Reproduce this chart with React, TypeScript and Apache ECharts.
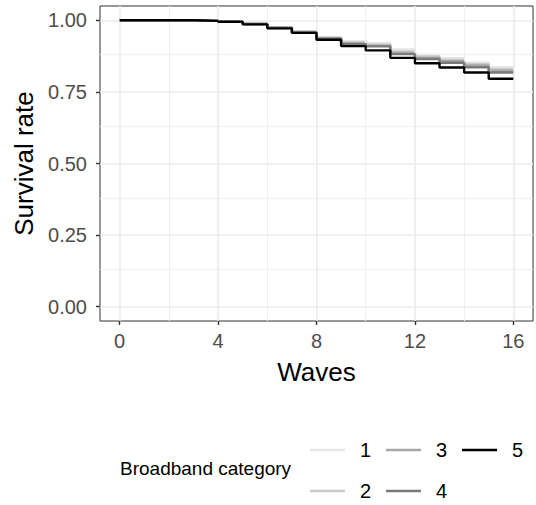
import React, { useEffect, useRef } from "react";
import * as echarts from "echarts";

const waves = [0, 1, 2, 3, 4, 5, 6, 7, 8, 9, 10, 11, 12, 13, 14, 15, 16];
const categories = ["1", "2", "3", "4", "5"];
const cat1 = [1, 1, 1, 0.999, 0.996, 0.988, 0.976, 0.962, 0.941, 0.927, 0.92, 0.898, 0.88, 0.868, 0.853, 0.836, 0.836];
const cat2 = [1, 1, 1, 0.999, 0.996, 0.988, 0.975, 0.96, 0.939, 0.923, 0.915, 0.891, 0.874, 0.862, 0.847, 0.829, 0.829];
const cat3 = [1, 1, 1, 0.998, 0.995, 0.987, 0.974, 0.959, 0.937, 0.92, 0.911, 0.886, 0.869, 0.857, 0.842, 0.824, 0.824];
const cat4 = [1, 1, 1, 0.998, 0.995, 0.987, 0.973, 0.958, 0.936, 0.917, 0.909, 0.882, 0.865, 0.852, 0.836, 0.818, 0.818];
const cat5 = [1, 1, 1, 0.998, 0.995, 0.986, 0.972, 0.956, 0.932, 0.91, 0.895, 0.869, 0.85, 0.835, 0.818, 0.796, 0.796];
const seriesValues = [cat1, cat2, cat3, cat4, cat5];
const colors = ["#E6E6E6", "#C9C9C9", "#A7A7A7", "#7A7A7A", "#000000"];
const xTicks = [0, 4, 8, 12, 16];
const xMinor = [2, 6, 10, 14];
const yTicks = [0, 0.25, 0.5, 0.75, 1];
const yMinor = [0.125, 0.375, 0.625, 0.875];

const FONT = "Liberation Sans, Arial, sans-serif";

export default function App() {
  const ref = useRef<HTMLDivElement>(null);
  useEffect(() => {
    if (!ref.current) return;
    const chart = echarts.init(ref.current, null, { renderer: "svg" });
    const gridMajor = { color: "#EBEBEB", width: 1.6, type: "solid" };
    const gridMinor = { color: "#EFEFEF", width: 1, type: "solid" };
    const markData: any[] = [
      ...xMinor.map((v) => ({ xAxis: v, lineStyle: gridMinor })),
      ...yMinor.map((v) => ({ yAxis: v, lineStyle: gridMinor })),
      ...xTicks.map((v) => ({ xAxis: v, lineStyle: gridMajor })),
      ...yTicks.map((v) => ({ yAxis: v, lineStyle: gridMajor })),
    ];
    const series: any[] = [
      {
        type: "line",
        name: "__grid",
        data: [[0, 0]],
        showSymbol: false,
        symbol: "none",
        lineStyle: { width: 0 },
        silent: true,
        z: 1,
        markLine: {
          silent: true,
          symbol: ["none", "none"],
          label: { show: false },
          data: markData,
          animation: false,
        },
      },
      ...categories.map((c, i) => ({
        type: "line",
        name: c,
        step: "end",
        symbol: "none",
        showSymbol: false,
        color: colors[i],
        lineStyle: { color: colors[i], width: 2.4 },
        data: waves.map((w, j) => [w, seriesValues[i][j]]),
        z: 2 + i,
      })),
    ];
    const legendCommon = {
      orient: "vertical",
      icon: "rect",
      itemWidth: 35,
      itemHeight: 2.5,
      itemGap: 21,
      padding: 0,
      top: 440,
      textStyle: { fontFamily: FONT, fontSize: 20, color: "#000", padding: [0, 0, 0, 10], lineHeight: 20 },
    };
    chart.setOption({
      animation: false,
      backgroundColor: "#fff",
      grid: {
        left: 100,
        top: 6,
        width: 433,
        height: 315,
        show: true,
        borderColor: "#333333",
        borderWidth: 1,
        backgroundColor: "transparent",
      },
      xAxis: {
        type: "value",
        min: -0.8,
        max: 16.8,
        name: "Waves",
        nameLocation: "middle",
        nameGap: 38,
        nameTextStyle: { fontFamily: FONT, fontSize: 26, color: "#000" },
        axisLine: { show: false, onZero: false },
        splitLine: { show: false },
        axisTick: { show: true, customValues: xTicks, length: 4, lineStyle: { color: "#333", width: 1.4 } },
        axisLabel: {
          customValues: xTicks,
          margin: 10,
          fontFamily: FONT,
          fontSize: 20,
          color: "#4D4D4D",
        },
      },
      yAxis: {
        type: "value",
        min: -0.05,
        max: 1.05,
        name: "Survival rate",
        nameLocation: "middle",
        nameGap: 57,
        nameTextStyle: { fontFamily: FONT, fontSize: 26, color: "#000" },
        axisLine: { show: false, onZero: false },
        splitLine: { show: false },
        axisTick: { show: true, customValues: yTicks, length: 4, lineStyle: { color: "#333", width: 1.4 } },
        axisLabel: {
          customValues: yTicks,
          margin: 13,
          fontFamily: FONT,
          fontSize: 20,
          color: "#4D4D4D",
          formatter: (v: number) => v.toFixed(2),
        },
      },
      legend: [
        { ...legendCommon, left: 310, data: ["1", "2"] },
        { ...legendCommon, left: 386, data: ["3", "4"] },
        { ...legendCommon, left: 462, data: ["5"] },
      ],
      graphic: [
        {
          type: "text",
          left: 120,
          top: 459,
          style: { text: "Broadband category", fontFamily: FONT, fontSize: 19, fill: "#000" },
        },
      ],
      series,
    });
    return () => chart.dispose();
  }, []);
  return <div ref={ref} style={{ width: 536, height: 505, position: "absolute", left: 0, top: 0 }} />;
}
